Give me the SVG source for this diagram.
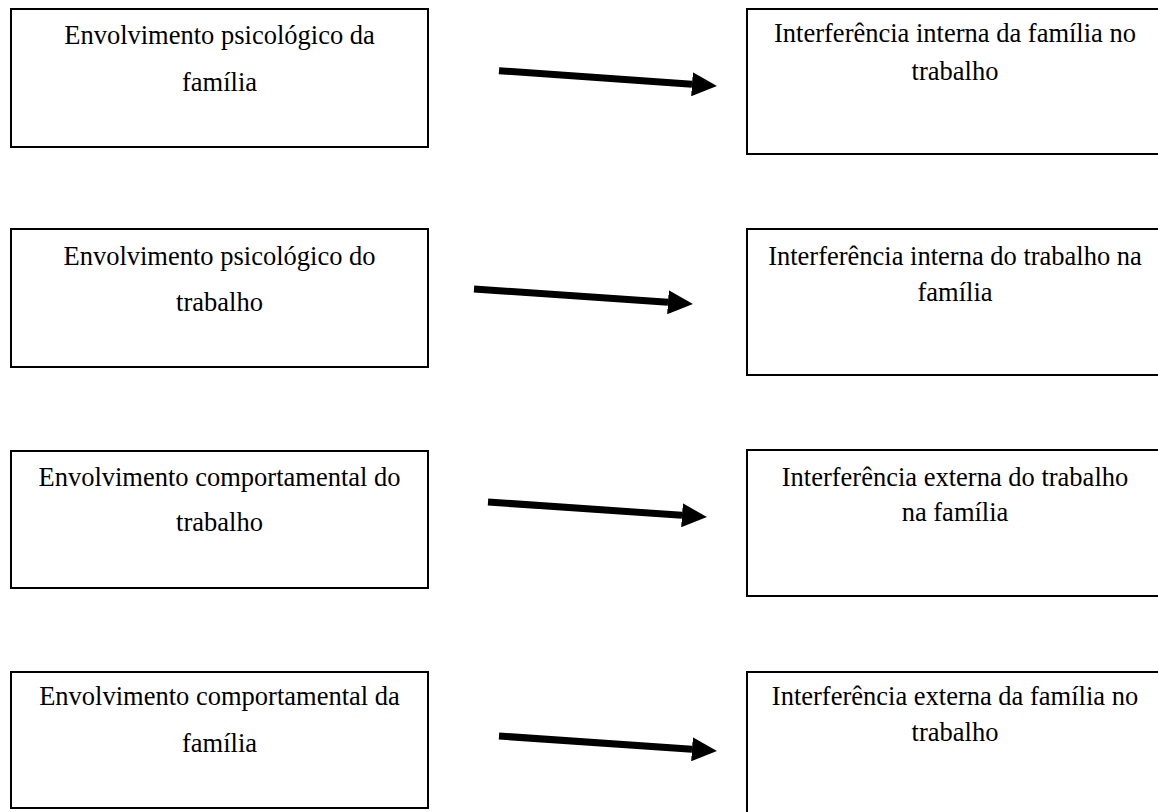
<svg xmlns="http://www.w3.org/2000/svg" width="1158" height="812" viewBox="0 0 1158 812">
  <style>
    .box { fill: #ffffff; stroke: #000000; stroke-width: 2; }
    .label { font-family: "Liberation Serif", "Times New Roman", serif; font-size: 26.5px; fill: #000000; text-anchor: middle; }
    .arrow { stroke: #000000; stroke-width: 7; fill: none; marker-end: url(#head); }
  </style>
  <defs>
    <marker id="head" markerUnits="userSpaceOnUse" markerWidth="25" markerHeight="24" viewBox="0 0 25 24" refX="0" refY="12" orient="auto">
      <path d="M0,0 L25,12 L0,24 z" fill="#000000"/>
    </marker>
  </defs>
  <rect width="1158" height="812" fill="#ffffff"/>

  <!-- Left column: involvement -->
  <g id="env-psi-familia">
    <rect class="box" x="11" y="9" width="417" height="138"/>
    <text class="label" x="219.5" y="43.5">Envolvimento psicológico da</text>
    <text class="label" x="219.5" y="90.5">família</text>
  </g>
  <g id="env-psi-trabalho">
    <rect class="box" x="11" y="229" width="417" height="138"/>
    <text class="label" x="219.5" y="265">Envolvimento psicológico do</text>
    <text class="label" x="219.5" y="310.5">trabalho</text>
  </g>
  <g id="env-comp-trabalho">
    <rect class="box" x="11" y="451" width="417" height="137"/>
    <text class="label" x="219.5" y="486">Envolvimento comportamental do</text>
    <text class="label" x="219.5" y="531">trabalho</text>
  </g>
  <g id="env-comp-familia">
    <rect class="box" x="11" y="672" width="417" height="136"/>
    <text class="label" x="219.5" y="704.5">Envolvimento comportamental da</text>
    <text class="label" x="219.5" y="751.5">família</text>
  </g>

  <!-- Right column: interference -->
  <g id="int-interna-familia-trabalho">
    <rect class="box" x="747" y="9" width="416" height="145"/>
    <text class="label" x="955" y="42">Interferência interna da família no</text>
    <text class="label" x="955" y="80">trabalho</text>
  </g>
  <g id="int-interna-trabalho-familia">
    <rect class="box" x="747" y="229" width="416" height="146"/>
    <text class="label" x="955" y="265">Interferência interna do trabalho na</text>
    <text class="label" x="955" y="301">família</text>
  </g>
  <g id="int-externa-trabalho-familia">
    <rect class="box" x="747" y="450" width="416" height="146"/>
    <text class="label" x="955" y="486">Interferência externa do trabalho</text>
    <text class="label" x="955" y="521">na família</text>
  </g>
  <g id="int-externa-familia-trabalho">
    <rect class="box" x="747" y="672" width="416" height="146"/>
    <text class="label" x="955" y="704.5">Interferência externa da família no</text>
    <text class="label" x="955" y="740.5">trabalho</text>
  </g>

  <!-- Connectors -->
  <g id="connectors">
    <line class="arrow" x1="499" y1="70.7" x2="692" y2="84.2"/>
    <line class="arrow" x1="474" y1="289" x2="668" y2="302.3"/>
    <line class="arrow" x1="488" y1="502" x2="682" y2="515.3"/>
    <line class="arrow" x1="499" y1="736" x2="692" y2="749.3"/>
  </g>
</svg>
